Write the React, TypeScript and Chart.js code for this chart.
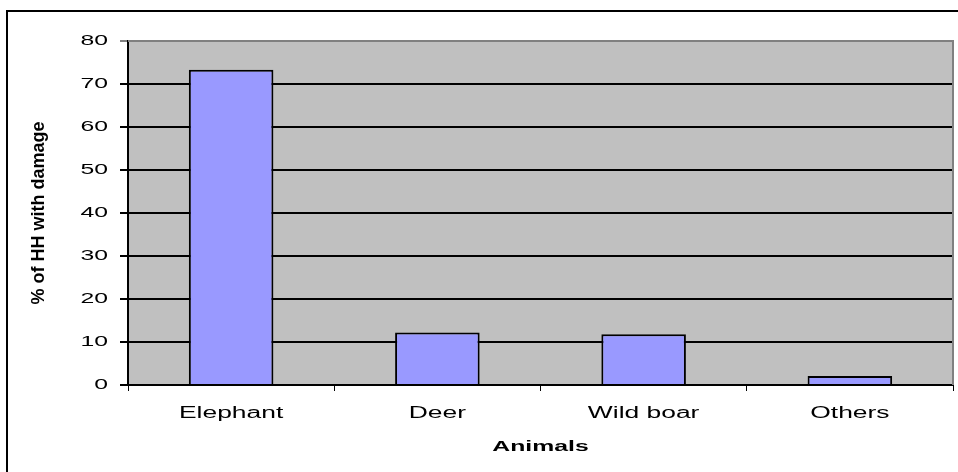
import React, { useEffect, useRef } from "react";
import { Chart, registerables } from "chart.js";

Chart.register(...registerables);

const categories = ["Elephant", "Deer", "Wild boar", "Others"];
const damageShare = [73.3, 12.2, 11.8, 2.1];
const yTicks = [0, 10, 20, 30, 40, 50, 60, 70, 80];

const FONT = "'Liberation Sans', Arial, sans-serif";
// Horizontal labels are drawn wider than the face's normal proportions.
const TEXT_STRETCH = 1.65;

// Widens unrotated labels about their anchor point; rotated text is left as is.
const wideTextPlugin = {
  id: "wideText",
  beforeDraw(chart: any) {
    const ctx = chart.ctx as any;
    if (ctx.__wideText) return;
    ctx.__wideText = true;
    const plain = ctx.fillText.bind(ctx);
    ctx.fillText = (text: string, x: number, y: number, maxWidth?: number) => {
      const t = ctx.getTransform();
      if (Math.abs(t.b) > 1e-6 || Math.abs(t.c) > 1e-6) {
        if (maxWidth === undefined) plain(text, x, y);
        else plain(text, x, y, maxWidth);
        return;
      }
      ctx.save();
      ctx.translate(x, y);
      ctx.scale(TEXT_STRETCH, 1);
      if (maxWidth === undefined) plain(text, 0, 0);
      else plain(text, 0, 0, maxWidth / TEXT_STRETCH);
      ctx.restore();
    };
  },
};

// Grey plot background, the darker plot frame and the outer chart frame.
const framePlugin = {
  id: "frames",
  beforeDraw(chart: any) {
    const { ctx, chartArea: a } = chart;
    ctx.save();
    ctx.fillStyle = "#C0C0C0";
    ctx.fillRect(a.left, a.top, a.right - a.left, a.bottom - a.top);
    ctx.restore();
  },
  afterDraw(chart: any) {
    const { ctx, chartArea: a } = chart;
    ctx.save();
    ctx.strokeStyle = "#808080";
    ctx.lineWidth = 2;
    ctx.beginPath();
    ctx.moveTo(a.left, a.top);
    ctx.lineTo(a.right, a.top);
    ctx.lineTo(a.right, a.bottom);
    ctx.stroke();
    ctx.strokeStyle = "#000000";
    ctx.lineWidth = 2;
    ctx.beginPath();
    ctx.moveTo(7, chart.height);
    ctx.lineTo(7, 11);
    ctx.lineTo(chart.width, 11);
    ctx.stroke();
    ctx.restore();
  },
};

export default function App() {
  const ref = useRef<HTMLCanvasElement | null>(null);

  useEffect(() => {
    if (!ref.current) return;
    const chart = new Chart(ref.current, {
      type: "bar",
      data: {
        labels: categories,
        datasets: [
          {
            data: damageShare,
            backgroundColor: "#9999FF",
            borderColor: "#000000",
            borderWidth: 2,
            categoryPercentage: 1,
            barPercentage: 0.41,
          },
        ],
      },
      options: {
        responsive: false,
        animation: false,
        events: [],
        layout: { padding: { left: 0, top: 41, right: 5, bottom: 0 } },
        plugins: {
          legend: { display: false },
          tooltip: { enabled: false },
        },
        scales: {
          x: {
            offset: true,
            border: { color: "#000000", width: 2 },
            grid: {
              offset: true,
              drawOnChartArea: false,
              drawTicks: true,
              tickLength: 6,
              color: "#000000",
              lineWidth: 1,
            },
            ticks: {
              color: "#000000",
              padding: 13,
              autoSkip: false,
              font: { family: FONT, size: 16 },
              maxRotation: 0,
            },
            title: {
              display: true,
              text: "Animals",
              color: "#000000",
              font: { family: FONT, size: 15, weight: "bold" },
              padding: { top: 0, bottom: 16 },
            },
            afterFit(scale: any) {
              scale.height = 87;
            },
          },
          y: {
            min: 0,
            max: 80,
            afterBuildTicks(scale: any) {
              scale.ticks = yTicks.map((v) => ({ value: v }));
            },
            border: { color: "#000000", width: 2 },
            grid: {
              color: (c: any) => (c.tick && c.tick.value === 80 ? "#808080" : "#000000"),
              lineWidth: 2,
              tickLength: 8,
            },
            ticks: {
              color: "#000000",
              padding: 12,
              font: { family: FONT, size: 15 },
            },
            title: {
              display: true,
              text: "% of HH with damage",
              color: "#000000",
              font: { family: FONT, size: 18, weight: "bold" },
              padding: { top: 28, bottom: 0 },
            },
            afterFit(scale: any) {
              scale.width = 128;
            },
          },
        },
      },
      plugins: [wideTextPlugin, framePlugin],
    });
    return () => chart.destroy();
  }, []);

  return (
    <div style={{ position: "fixed", left: 0, top: 0, width: 958, height: 472, background: "#FFFFFF" }}>
      <canvas ref={ref} width={958} height={472} style={{ display: "block" }} />
    </div>
  );
}
